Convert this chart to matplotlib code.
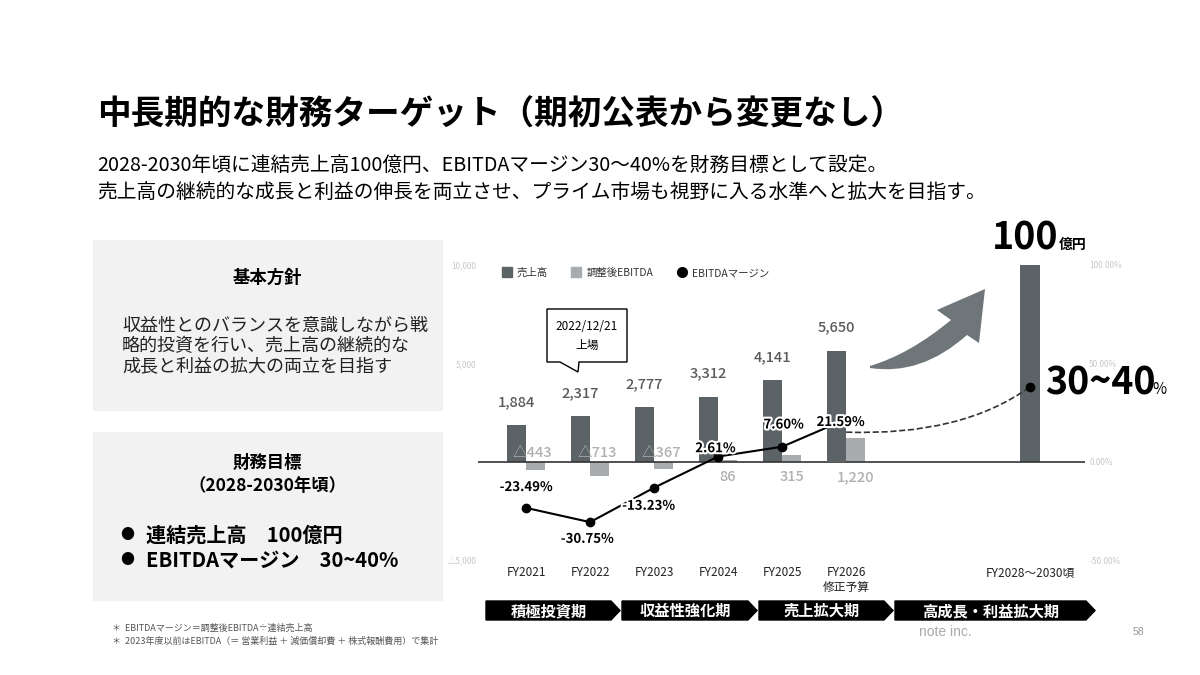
import matplotlib.pyplot as plt
import matplotlib.patheffects as pe
import numpy as np
from matplotlib.lines import Line2D
from matplotlib.patches import Polygon, Rectangle, PathPatch
from matplotlib.path import Path

plt.rcParams['font.family'] = ['Noto Sans CJK JP', 'DejaVu Sans']

# data
years = ['FY2021', 'FY2022', 'FY2023', 'FY2024', 'FY2025', 'FY2026\n修正予算']
revenue = [1884, 2317, 2777, 3312, 4141, 5650]
ebitda = [-443, -713, -367, 86, 315, 1220]
margin = [-23.49, -30.75, -13.23, 2.61, 7.60, 21.59]
target_label = 'FY2028～2030頃'
target_revenue = 10000
target_margin = 38  # dot sits inside the 30~40% band
phases = ['積極投資期', '収益性強化期', '売上拡大期', '高成長・利益拡大期']
left_ticks = [-5000, 5000, 10000]
left_tick_labels = ['△5,000', '5,000', '10,000']
right_ticks = [-50, 0, 50, 100]
right_tick_labels = ['-50.00%', '0.00%', '50.00%', '100.00%']

W, H = 1200, 675
fig = plt.figure(figsize=(12, 6.75), dpi=100)


def fx(px):
    return px / W


def fy(py):
    return 1 - py / H


# title + lead
fig.text(fx(97), fy(115), '中長期的な財務ターゲット（期初公表から変更なし）',
         fontsize=24.2, fontweight='bold', va='center')
fig.text(fx(97), fy(165), '2028-2030年頃に連結売上高100億円、EBITDAマージン30～40%を財務目標として設定。',
         fontsize=14.2, va='center')
fig.text(fx(97), fy(193), '売上高の継続的な成長と利益の伸長を両立させ、プライム市場も視野に入る水準へと拡大を目指す。',
         fontsize=14.2, va='center')

# left panels
fig.patches.append(Rectangle((fx(93), fy(410)), fx(349), 170 / H, transform=fig.transFigure,
                             color='#f2f2f2', zorder=0))
fig.patches.append(Rectangle((fx(93), fy(600)), fx(349), 168 / H, transform=fig.transFigure,
                             color='#f2f2f2', zorder=0))
fig.text(fx(267), fy(278), '基本方針', ha='center', va='center', fontsize=12.5, fontweight='bold')
fig.text(fx(122), fy(346), '収益性とのバランスを意識しながら戦\n略的投資を行い、売上高の継続的な\n成長と利益の拡大の両立を目指す',
         ha='left', va='center', fontsize=13, linespacing=1.15, color='#222')
fig.text(fx(267), fy(463), '財務目標', ha='center', va='center', fontsize=12.5, fontweight='bold')
fig.text(fx(267), fy(486), '（2028-2030年頃）', ha='center', va='center', fontsize=12.5, fontweight='bold')
for yy, line in zip([535, 560], ['連結売上高　100億円', 'EBITDAマージン　30~40%']):
    fig.text(fx(127), fy(yy), '●', ha='center', va='center', fontsize=10)
    fig.text(fx(146), fy(yy), line, ha='left', va='center', fontsize=14.5, fontweight='bold')

# chart
ax = fig.add_axes([fx(478), fy(560), fx(1085) - fx(478), fy(265) - fy(560)])
ax2 = ax.twinx()
ax.set_xlim(-0.75, 8.73)
ax.set_ylim(-5000, 10000)
ax2.set_ylim(-50, 100)

x = np.arange(len(years))
target_x = 7.87
w = 0.3
c_rev = '#5b6367'
c_ebit = '#a8acaf'

rb = ax.bar(x - w / 2, revenue, w, color=c_rev, zorder=2)
ax.bar(x + w / 2, ebitda, w, color=c_ebit, zorder=2)
rb.patches[-1].set_zorder(4)
ax.bar(target_x, target_revenue, w, color=c_rev, zorder=2)
ax.axhline(0, color='#333333', lw=1.2, zorder=3)

ax.plot(x, margin, transform=ax2.transData, color='black', lw=1.5,
        marker='o', ms=6, markevery=[0, 1, 2, 3, 4], zorder=3)
curve = Path([(5, 15), (6.8, 13), (target_x, target_margin)],
             [Path.MOVETO, Path.CURVE3, Path.CURVE3])
ax.add_patch(PathPatch(curve, transform=ax2.transData, fill=False, ls='--',
                       ec='#333333', lw=1.2, zorder=3))
ax.plot([target_x], [target_margin], 'o', color='black', ms=6,
        transform=ax2.transData, zorder=5)

for xi, v in zip(x, revenue):
    ax.annotate(f'{v:,}', (xi - w / 2, v), xytext=(0, 16.5), textcoords='offset points',
                ha='center', va='center', fontsize=10.5, color='#5a5a5a', fontweight='medium')
for xi, v in zip(x, ebitda):
    txt = f'△{-v:,}' if v < 0 else f'{v:,}'
    dy = 6.5 if v < 0 else -11
    ax.annotate(txt, (xi + w / 2, 0), xytext=(-2 if v < 0 else 0, dy), textcoords='offset points',
                ha='center', va='center', fontsize=10.5, color='#b0b0b0', fontweight='medium', zorder=5)

stroke = [pe.withStroke(linewidth=3, foreground='white')]
margin_offsets = [(0, 15), (-2, -12), (-4, -13), (-2, 6), (1, 16), (-4, -2)]
for xi, m, off in zip(x, margin, margin_offsets):
    ax.annotate(f'{m:.2f}%', (xi, m), xycoords=ax2.transData, xytext=off,
                textcoords='offset points', ha='center', va='center', fontsize=9.5,
                fontweight='bold', color='black', path_effects=stroke, zorder=6)

ax.set_xticks(list(x) + [target_x], years + [target_label])
ax.tick_params(axis='x', length=0, pad=4, labelsize=8.5, colors='#222222')
ax.set_yticks(left_ticks, left_tick_labels)
ax.tick_params(axis='y', length=0, pad=1, labelsize=6, labelcolor='#c8c8c8')
ax2.set_yticks(right_ticks, right_tick_labels)
ax2.tick_params(axis='y', length=0, pad=3, labelsize=6, labelcolor='#c8c8c8')
for a in (ax, ax2):
    for s in a.spines.values():
        s.set_visible(False)
ax.patch.set_visible(False)

# legend
handles = [Line2D([], [], marker='s', ls='', color=c_rev, ms=6.5),
           Line2D([], [], marker='s', ls='', color=c_ebit, ms=6.5),
           Line2D([], [], marker='o', ls='', color='black', ms=7)]
fig.legend(handles, ['売上高', '調整後EBITDA', 'EBITDAマージン'], loc='center left',
           bbox_to_anchor=(fx(492), fy(273)), ncol=3, frameon=False, fontsize=7.5,
           handlelength=1, handletextpad=0.5, columnspacing=2.2, labelcolor='#333333')

# listing callout
callout = [(547, 309), (627, 309), (627, 362), (579, 362), (578, 372), (560, 362), (547, 362)]
fig.patches.append(Polygon([(fx(a), fy(b)) for a, b in callout], closed=True,
                           transform=fig.transFigure, fc='white', ec='black', lw=1, zorder=5))
fig.text(fx(587), fy(327), '2022/12/21', ha='center', va='center', fontsize=8.5, zorder=6)
fig.text(fx(587), fy(345), '上場', ha='center', va='center', fontsize=8.5, zorder=6)

# growth arrow (swoosh)
arrow_pts = [(870, 368), (921, 376), (967, 335), (979, 343), (985, 289),
             (937, 310), (951, 320), (910, 354), (870, 366), (870, 368)]
arrow_codes = [Path.MOVETO, Path.CURVE3, Path.CURVE3, Path.LINETO, Path.LINETO,
               Path.LINETO, Path.LINETO, Path.CURVE3, Path.CURVE3, Path.CLOSEPOLY]
fig.patches.append(PathPatch(Path([(fx(a), fy(b)) for a, b in arrow_pts], arrow_codes),
                             transform=fig.transFigure, color='#6e7679', lw=0, zorder=4))

# target callouts
fig.text(fx(992), fy(250), '100', fontsize=27, fontweight='bold', va='baseline')
fig.text(fx(1059), fy(249), '億円', fontsize=10, fontweight='bold', va='baseline')
fig.text(fx(1045), fy(395), '30~40', fontsize=27, fontweight='bold', va='baseline')
fig.text(fx(1152), fy(394), '%', fontsize=11, va='baseline')

# phase banners
spans = [(486, 620), (622, 757), (759, 893), (895, 1095)]
for (a, b), label in zip(spans, phases):
    tip = 9
    pts = [(a, 601), (b - tip, 601), (b, 610.5), (b - tip, 620), (a, 620)]
    fig.patches.append(Polygon([(fx(p), fy(q)) for p, q in pts], closed=True,
                               transform=fig.transFigure, color='black', zorder=5))
    fig.text(fx((a + b - tip) / 2), fy(611), label, ha='center', va='center', fontsize=11,
             fontweight='bold', color='white', zorder=6)

# footnotes
fig.text(fx(112), fy(628), '＊  EBITDAマージン＝調整後EBITDA÷連結売上高', fontsize=6.5, color='#555555', va='center')
fig.text(fx(112), fy(641), '＊  2023年度以前はEBITDA（＝ 営業利益 ＋ 減価償却費 ＋ 株式報酬費用）で集計',
         fontsize=6.5, color='#555555', va='center')
fig.text(fx(945), fy(632), 'note inc.', ha='center', va='center', fontsize=10, color='#aaaaaa',
         family=['Liberation Sans'])
fig.text(fx(1138), fy(632), '58', ha='center', va='center', fontsize=7.5, color='#999999',
         family=['Liberation Sans'])

fig.savefig('out.png', dpi=100)
